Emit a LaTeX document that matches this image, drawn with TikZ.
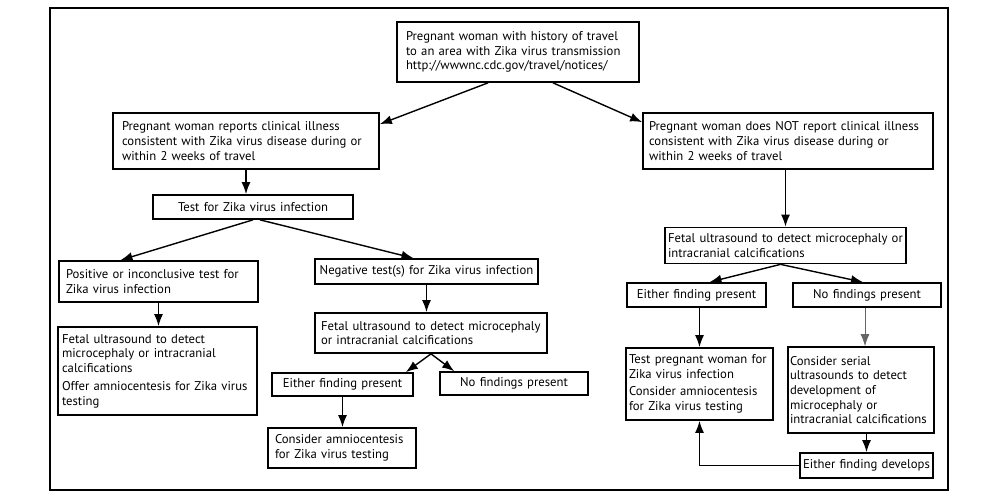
\documentclass[tikz,border=0pt]{standalone}
\usepackage{fontspec}
\setmainfont{PT Sans}
\usetikzlibrary{arrows.meta,calc}
\newcommand{\fz}{\fontsize{12.7}{14.7}\selectfont}
\tikzset{
  bx/.style={draw, line width=1.7pt, inner xsep=0pt, inner ysep=0pt, font=\fz, align=left},
  bxc/.style={bx, align=center},
  arr/.style={line width=1.4pt, -{Latex[length=12pt,width=9pt]}},
}
\begin{document}
\begin{tikzpicture}[x=1pt,y=-1pt]
\useasboundingbox (0,0) rectangle (1000,500);
\draw[line width=2.2pt] (50,8) rectangle (948,490);

\node[bx, minimum width=242pt, minimum height=60pt, text width=224pt] (top) at (518,52)
 {Pregnant woman with history of travel\\to an area with Zika virus transmission\\http://wwwnc.cdc.gov/travel/notices/};
\node[bx, minimum width=266pt, minimum height=56pt, text width=248pt] (clin) at (246,141)
 {Pregnant woman reports clinical illness\\consistent with Zika virus disease during or\\within 2 weeks of travel};
\node[bx, minimum width=290pt, minimum height=56pt, text width=278pt] (not) at (788,141)
 {Pregnant woman does NOT report clinical illness\\consistent with Zika virus disease during or\\within 2 weeks of travel};
\node[bxc, minimum width=200pt, minimum height=24pt, text width=200pt] (test) at (253,207)
 {Test for Zika virus infection};
\node[bx, minimum width=199pt, minimum height=41pt, text width=185pt] (pos) at (158.5,281.5)
 {Positive or inconclusive test for\\Zika virus infection};
\node[bx, minimum width=199pt, minimum height=88pt, text width=191pt] (fetL) at (157.5,371)
 {Fetal ultrasound to detect\\microcephaly or intracranial\\calcifications\\[3pt]Offer amniocentesis for Zika virus\\testing};
\node[bxc, minimum width=223pt, minimum height=25pt, text width=223pt] (neg) at (426.5,271.5)
 {Negative test(s) for Zika virus infection};
\node[bx, minimum width=232pt, minimum height=40pt, text width=220pt] (fetM) at (431,333)
 {Fetal ultrasound to detect microcephaly\\or intracranial calcifications};
\node[bxc, minimum width=141pt, minimum height=23pt, text width=141pt] (eitL) at (342.5,384.5)
 {Either finding present};
\node[bxc, minimum width=148pt, minimum height=23pt, text width=148pt] (noL) at (514,383.5)
 {No findings present};
\node[bx, minimum width=148pt, minimum height=40pt, text width=134pt] (amnL) at (342,448)
 {Consider amniocentesis\\for Zika virus testing};
\node[bx, minimum width=241pt, minimum height=36pt, text width=235pt] (fetR) at (785.5,245.5)
 {Fetal ultrasound to detect microcephaly or\\intracranial calcifications};
\node[bxc, minimum width=139pt, minimum height=24pt, text width=139pt] (eitR) at (696.5,295)
 {Either finding present};
\node[bxc, minimum width=148pt, minimum height=24pt, text width=148pt] (noR) at (867,295)
 {No findings present};
\node[bx, minimum width=147pt, minimum height=72pt, text width=141pt] (tpr) at (699.5,384)
 {Test pregnant woman for\\Zika virus infection\\[3pt]Consider amniocentesis\\for Zika virus testing};
\node[bx, minimum width=146pt, minimum height=86pt, text width=142pt] (ser) at (861,390)
 {Consider serial\\ultrasounds to detect\\development of\\microcephaly or\\intracranial calcifications};
\node[bxc, minimum width=133pt, minimum height=25pt, text width=133pt] (dev) at (866.5,465.5)
 {Either finding develops};

\draw[arr] ($(top.south)+(-30,0)$) -- ($(clin.north east)+(0,12)$);
\draw[arr] ($(top.south)+(35,0)$) -- ($(not.north west)+(0,10)$);
\draw[arr] (clin.south) -- (clin.south |- test.north);
\draw[arr] (test.south) -- ($(pos.north)+(-38,0)$);
\draw[arr] ($(test.south)+(7,0)$) -- ($(neg.north)+(-13,0)$);
\draw[arr] (pos.south) -- (pos.south |- fetL.north);
\draw[arr] (neg.south) -- (neg.south |- fetM.north);
\draw[arr] (fetM.south) -- ($(eitL.north east)+(-8,0)$);
\draw[arr] (fetM.south) -- ($(noL.north west)+(15,0)$);
\draw[arr] (eitL.south) -- (eitL.south |- amnL.north);
\draw[arr] (fetR.north |- not.south) -- (fetR.north);
\draw[arr] ($(fetR.south)+(-5,0)$) -- ($(eitR.north)+(13,0)$);
\draw[arr] ($(fetR.south)+(-5,0)$) -- ($(noR.north)+(-4,0)$);
\draw[arr] (tpr.north |- eitR.south) -- (tpr.north);
\draw[arr, line width=0.8pt, draw=black!60] ($(noR.south)+(-2,0)$) -- ($(noR.south |- ser.north)+(-2,0)$);
\draw[arr] (dev.north |- ser.south) -- (dev.north);
\draw[arr] (dev.west) -| (tpr.south);
\end{tikzpicture}
\end{document}
